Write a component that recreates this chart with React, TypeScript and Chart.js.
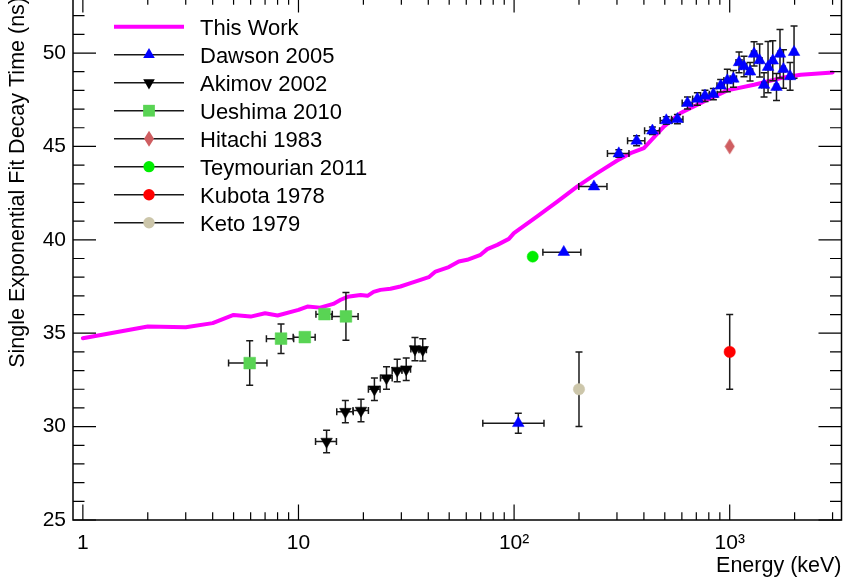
import React, { useEffect, useRef } from 'react';
import { Chart, registerables } from 'chart.js';

Chart.register(...registerables);

const FONT = '"Liberation Sans", Arial, Helvetica, sans-serif';

// ---- Data ----
const thisWorkEnergy = [1, 2, 3, 4, 5, 6, 7, 8, 10, 11, 12.6, 14.5, 15.7, 16.9, 19.4, 20.9, 22.3, 24, 26.7, 29.7, 33.1, 36.8, 40.2, 43.2, 49.8, 55.4, 60.6, 69.9, 75.1, 83.6, 94.6, 99.8, 128, 158.6, 196, 243, 301, 347, 400, 496, 592, 760, 975, 1297, 1725, 2136, 3000];
const thisWorkTau = [34.73, 35.36, 35.32, 35.54, 35.98, 35.89, 36.07, 35.95, 36.25, 36.43, 36.37, 36.57, 36.79, 36.95, 37.05, 37.0, 37.21, 37.32, 37.38, 37.5, 37.68, 37.86, 38.0, 38.3, 38.54, 38.84, 38.93, 39.2, 39.5, 39.73, 40.05, 40.36, 41.25, 42.05, 42.85, 43.57, 44.25, 44.64, 44.91, 46.07, 46.79, 47.41, 48.0, 48.3, 48.66, 48.84, 48.96];

const dawsonEnergy = [104.6, 170, 234.6, 306, 370, 438, 508, 572, 637, 708, 768, 840, 908, 975, 1040, 1105, 1165, 1243, 1297, 1377, 1443, 1506, 1584, 1648, 1711, 1775, 1906, 1988];
const dawsonTau = [30.18, 39.34, 42.85, 44.62, 45.3, 45.84, 46.39, 46.46, 47.32, 47.54, 47.71, 47.8, 48.25, 48.53, 48.62, 49.5, 49.28, 49.0, 49.96, 49.6, 48.29, 49.25, 49.59, 48.18, 49.96, 49.14, 48.75, 50.05];
const dawsonTauErr = [0.54, 0, 0.1, 0.2, 0.27, 0.2, 0.2, 0.25, 0.32, 0.33, 0.3, 0.3, 0.33, 0.6, 0.45, 0.56, 0.55, 0.5, 0.65, 0.88, 0.65, 1.37, 1.07, 0.72, 1.3, 1.03, 0.74, 1.4];
const dawsonEnergyErr = [33, 34, 35, 35, 34, 35, 32, 35, 35, 35, 35, 35, 35, 35, 35, 35, 35, 35, 35, 35, 35, 35, 35, 35, 35, 35, 35, 35];

const akimovEnergy = [13.5, 16.5, 19.5, 22.5, 25.6, 28.7, 31.6, 34.7, 37.7];
const akimovTau = [29.2, 30.8, 30.86, 32.0, 32.6, 33.0, 33.07, 34.15, 34.11];
const akimovTauErr = [0.6, 0.6, 0.6, 0.6, 0.6, 0.6, 0.6, 0.62, 0.6];
const akimovEnergyErr = [1.5, 1.45, 1.6, 1.4, 1.6, 1.5, 1.5, 1.5, 1.5];

const ueshimaEnergy = [5.94, 8.3, 10.7, 13.2, 16.6];
const ueshimaTau = [33.4, 34.71, 34.79, 36.02, 35.9];
const ueshimaTauErr = [1.19, 0.79, 0, 0, 1.28];
const ueshimaEnergyErr = [1.2, 1.2, 1.25, 1.15, 2.3];

const hitachiEnergy = [1000];
const hitachiTau = [45.0];

const teymourianEnergy = [122];
const teymourianTau = [39.1];

const kubotaEnergy = [1000];
const kubotaTau = [34.0];
const kubotaTauErr = [2.0];

const ketoEnergy = [200];
const ketoTau = [32.0];
const ketoTauErr = [2.0];

const xTickValues = [1, 10, 100, 1000];
const xTickLabels = ['1', '10', '10\u00B2', '10\u00B3'];
const yTickValues = [25, 30, 35, 40, 45, 50];

const xTitle = 'Energy (keV)';
const yTitle = 'Single Exponential Fit Decay Time (ns)';

// ---- helpers ----
function pts(xs: number[], ys: number[]) {
  return xs.map((x, i) => ({ x, y: ys[i] }));
}

function drawMarker(ctx: CanvasRenderingContext2D, kind: string, x: number, y: number, color: string, r: number) {
  ctx.save();
  ctx.fillStyle = color;
  ctx.beginPath();
  if (kind === 'triangle' || kind === 'triangleDown') {
    const s = kind === 'triangle' ? 1 : -1;
    let rad = 0;
    for (let i = 0; i < 3; i++) {
      const px = x + Math.sin(rad) * r;
      const py = y - s * Math.cos(rad) * r;
      if (i === 0) ctx.moveTo(px, py); else ctx.lineTo(px, py);
      rad += (2 * Math.PI) / 3;
    }
    ctx.closePath();
  } else if (kind === 'rect') {
    const h = Math.SQRT1_2 * r;
    ctx.rect(x - h, y - h, 2 * h, 2 * h);
  } else if (kind === 'diamond') {
    ctx.moveTo(x, y - 8);
    ctx.lineTo(x + 5, y);
    ctx.lineTo(x, y + 8);
    ctx.lineTo(x - 5, y);
    ctx.closePath();
  } else {
    ctx.arc(x, y, r, 0, Math.PI * 2);
  }
  ctx.fill();
  ctx.restore();
}

const errorBarPlugin = {
  id: 'errorBars',
  beforeDatasetDraw(chart: any, args: any) {
    const ds = chart.data.datasets[args.index];
    if (!ds.errX && !ds.errY) return;
    const { ctx, chartArea: a } = chart;
    const xs = chart.scales.x;
    const ys = chart.scales.y;
    const cap = 3.5;
    ctx.save();
    ctx.beginPath();
    ctx.rect(a.left, a.top, a.right - a.left, a.bottom - a.top);
    ctx.clip();
    ctx.strokeStyle = '#1a1a1a';
    ctx.lineWidth = 1.5;
    ds.data.forEach((p: any, i: number) => {
      const px = xs.getPixelForValue(p.x);
      const py = ys.getPixelForValue(p.y);
      const ex = ds.errX ? ds.errX[i] : 0;
      const ey = ds.errY ? ds.errY[i] : 0;
      ctx.beginPath();
      if (ey > 0) {
        const y1 = ys.getPixelForValue(p.y + ey);
        const y2 = ys.getPixelForValue(p.y - ey);
        ctx.moveTo(px, y1); ctx.lineTo(px, y2);
        ctx.moveTo(px - cap, y1); ctx.lineTo(px + cap, y1);
        ctx.moveTo(px - cap, y2); ctx.lineTo(px + cap, y2);
      }
      if (ex > 0) {
        const x1 = xs.getPixelForValue(p.x - ex);
        const x2 = xs.getPixelForValue(p.x + ex);
        ctx.moveTo(x1, py); ctx.lineTo(x2, py);
        ctx.moveTo(x1, py - cap); ctx.lineTo(x1, py + cap);
        ctx.moveTo(x2, py - cap); ctx.lineTo(x2, py + cap);
      }
      ctx.stroke();
    });
    ctx.restore();
  },
};

const frameTicksPlugin = {
  id: 'frameTicks',
  afterDatasetsDraw(chart: any) {
    const { ctx, chartArea: a } = chart;
    const xs = chart.scales.x;
    const ys = chart.scales.y;
    ctx.save();
    ctx.strokeStyle = '#000';
    ctx.lineWidth = 1.2;
    ctx.beginPath();
    for (let d = -1; d <= 4; d++) {
      for (let k = 1; k <= 9; k++) {
        const v = k * Math.pow(10, d);
        if (v <= xs.min * 1.001 || v >= xs.max * 0.999) continue;
        const px = xs.getPixelForValue(v);
        const len = k === 1 ? 15.6 : 7.8;
        ctx.moveTo(px, a.bottom); ctx.lineTo(px, a.bottom - len);
        ctx.moveTo(px, a.top); ctx.lineTo(px, a.top + len);
      }
    }
    for (let v = Math.ceil(ys.min); v <= ys.max; v++) {
      const py = ys.getPixelForValue(v);
      const len = v % 5 === 0 ? 23 : 11.5;
      ctx.moveTo(a.left, py); ctx.lineTo(a.left + len, py);
      ctx.moveTo(a.right, py); ctx.lineTo(a.right - len, py);
    }
    ctx.stroke();
    ctx.lineWidth = 1.5;
    ctx.strokeRect(a.left, a.top, a.right - a.left, a.bottom - a.top);
    ctx.restore();
  },
};

const legendPlugin = {
  id: 'rootLegend',
  afterDraw(chart: any) {
    const { ctx, chartArea: a } = chart;
    const x0 = a.left + 41;
    const x1 = a.left + 111;
    const xm = (x0 + x1) / 2;
    const xt = a.left + 127;
    ctx.save();
    chart.data.datasets.forEach((ds: any, i: number) => {
      const y = a.top + 29.7 + 28 * i;
      ctx.beginPath();
      if (ds.legendKind === 'line') {
        ctx.strokeStyle = ds.borderColor;
        ctx.lineWidth = 4;
      } else {
        ctx.strokeStyle = '#1a1a1a';
        ctx.lineWidth = 1.5;
      }
      ctx.moveTo(x0, y); ctx.lineTo(x1, y);
      ctx.stroke();
      if (ds.legendKind !== 'line') {
        drawMarker(ctx, ds.legendKind, xm, y, ds.backgroundColor, ds.pointRadius);
      }
      ctx.fillStyle = '#000';
      ctx.font = `22px ${FONT}`;
      ctx.textAlign = 'left';
      ctx.textBaseline = 'alphabetic';
      ctx.fillText(ds.label, xt, y + 8.7);
    });
    ctx.restore();
  },
};

export default function App() {
  const ref = useRef<HTMLCanvasElement>(null);

  useEffect(() => {
    const canvas = ref.current;
    if (!canvas) return;

    const diamond = document.createElement('canvas');
    diamond.width = 11;
    diamond.height = 17;
    const dctx = diamond.getContext('2d')!;
    dctx.fillStyle = '#cf5e61';
    dctx.beginPath();
    dctx.moveTo(5.5, 0.5);
    dctx.lineTo(10.5, 8.5);
    dctx.lineTo(5.5, 16.5);
    dctx.lineTo(0.5, 8.5);
    dctx.closePath();
    dctx.fill();

    const marker = (color: string, style: any, radius: number, rotation = 0) => ({
      showLine: false,
      pointStyle: style,
      pointRadius: radius,
      pointRotation: rotation,
      backgroundColor: color,
      borderColor: color,
      pointBackgroundColor: color,
      pointBorderColor: color,
      pointBorderWidth: 0.5,
      order: 0,
    });

    const datasets: any[] = [
      {
        label: 'This Work',
        data: pts(thisWorkEnergy, thisWorkTau),
        showLine: true,
        borderColor: '#ff00ff',
        backgroundColor: '#ff00ff',
        borderWidth: 4,
        borderJoinStyle: 'round',
        borderCapStyle: 'round',
        pointRadius: 0,
        tension: 0,
        order: 10,
        legendKind: 'line',
      },
      {
        label: 'Dawson 2005',
        data: pts(dawsonEnergy, dawsonTau),
        errX: dawsonEnergyErr,
        errY: dawsonTauErr,
        ...marker('#0000ff', 'triangle', 6.7),
        legendKind: 'triangle',
      },
      {
        label: 'Akimov 2002',
        data: pts(akimovEnergy, akimovTau),
        errX: akimovEnergyErr,
        errY: akimovTauErr,
        ...marker('#000000', 'triangle', 6.7, 180),
        legendKind: 'triangleDown',
      },
      {
        label: 'Ueshima 2010',
        data: pts(ueshimaEnergy, ueshimaTau),
        errX: ueshimaEnergyErr,
        errY: ueshimaTauErr,
        ...marker('#59d454', 'rect', 8.3),
        legendKind: 'rect',
      },
      {
        label: 'Hitachi 1983',
        data: pts(hitachiEnergy, hitachiTau),
        ...marker('#cf5e61', diamond, 6),
        legendKind: 'diamond',
      },
      {
        label: 'Teymourian 2011',
        data: pts(teymourianEnergy, teymourianTau),
        ...marker('#00ee00', 'circle', 5.6),
        legendKind: 'circle',
      },
      {
        label: 'Kubota 1978',
        data: pts(kubotaEnergy, kubotaTau),
        errY: kubotaTauErr,
        ...marker('#ff0000', 'circle', 5.7),
        legendKind: 'circle',
      },
      {
        label: 'Keto 1979',
        data: pts(ketoEnergy, ketoTau),
        errY: ketoTauErr,
        ...marker('#ccc6aa', 'circle', 5.7),
        legendKind: 'circle',
      },
    ];

    Chart.defaults.font.family = FONT;
    Chart.defaults.color = '#000';

    const chart = new Chart(canvas, {
      type: 'scatter',
      data: { datasets },
      options: {
        responsive: false,
        animation: false,
        devicePixelRatio: 1,
        events: [],
        layout: { padding: { left: 0, right: 2.5, top: 0, bottom: 0 }, autoPadding: false } as any,
        plugins: {
          legend: { display: false },
          tooltip: { enabled: false },
        },
        scales: {
          x: {
            type: 'logarithmic',
            min: 0.9,
            max: 3300,
            grid: { display: false, drawTicks: false },
            border: { display: false },
            afterBuildTicks: (scale: any) => {
              scale.ticks = xTickValues.map((v) => ({ value: v }));
            },
            afterFit: (scale: any) => {
              scale.height = 62;
              scale.paddingLeft = 0;
              scale.paddingRight = 0;
            },
            ticks: {
              autoSkip: false,
              maxRotation: 0,
              minRotation: 0,
              padding: 11,
              color: '#000',
              font: { size: 21, family: FONT },
              callback: (value: any) => {
                const i = xTickValues.indexOf(Number(value));
                return i >= 0 ? xTickLabels[i] : '';
              },
            },
            title: {
              display: true,
              text: xTitle,
              align: 'end',
              color: '#000',
              font: { size: 21.5, family: FONT },
              padding: { top: 0, bottom: 3 },
            },
          },
          y: {
            type: 'linear',
            min: 25,
            max: 53,
            grid: { display: false, drawTicks: false },
            border: { display: false },
            afterBuildTicks: (scale: any) => {
              scale.ticks = yTickValues.map((v) => ({ value: v }));
            },
            afterFit: (scale: any) => {
              scale.width = 73;
              scale.paddingTop = 0;
              scale.paddingBottom = 0;
            },
            ticks: {
              padding: 7,
              color: '#000',
              font: { size: 21, family: FONT },
              callback: (value: any) => String(value),
            },
            title: {
              display: true,
              text: yTitle,
              align: 'end',
              color: '#000',
              font: { size: 21.5, family: FONT },
              padding: { top: 5, bottom: 0 },
            },
          },
        },
      } as any,
      plugins: [errorBarPlugin, frameTicksPlugin, legendPlugin],
    });

    return () => chart.destroy();
  }, []);

  return (
    <div style={{ position: 'absolute', left: 0, top: -3, width: 844, height: 585 }}>
      <canvas ref={ref} width={844} height={585} style={{ display: 'block', width: 844, height: 585 }} />
    </div>
  );
}
